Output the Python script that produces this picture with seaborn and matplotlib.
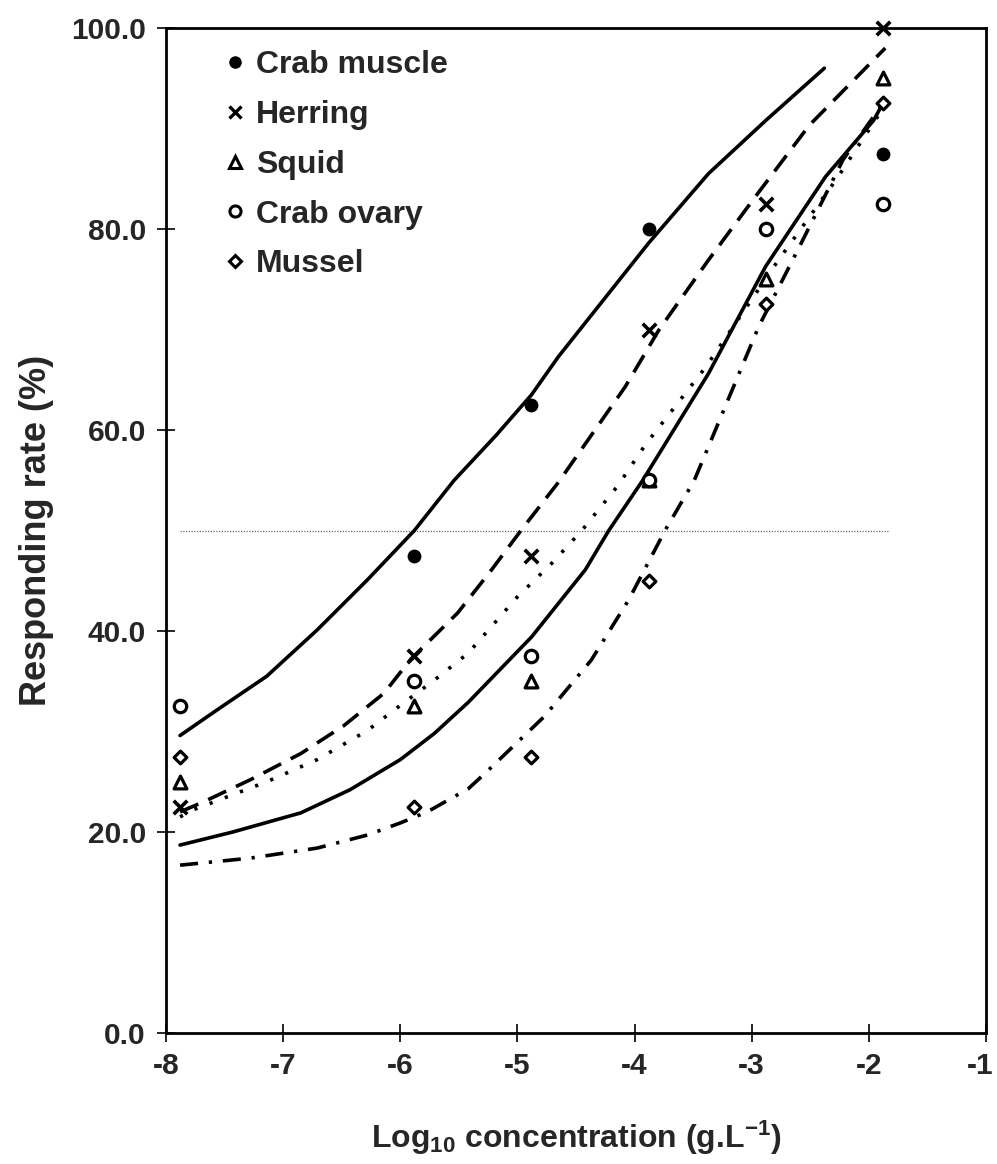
import numpy as np
import pandas as pd
import seaborn as sns
import matplotlib
matplotlib.use("Agg")
import matplotlib.pyplot as plt
import matplotlib.transforms as mtransforms
from matplotlib.lines import Line2D

# ---------------- data ----------------
conc = [-7.88, -5.88, -4.88, -3.88, -2.88, -1.88]
series_names = ["Crab muscle", "Herring", "Squid", "Crab ovary", "Mussel"]

crab_muscle = [np.nan, 47.5, 62.5, 80.0, np.nan, 87.5]
herring = [22.5, 37.5, 47.5, 70.0, 82.5, 100.0]
squid = [25.0, 32.5, 35.0, 55.0, 75.0, 95.0]
crab_ovary = [32.5, 35.0, 37.5, 55.0, 80.0, 82.5]
mussel = [27.5, 22.5, 27.5, 45.0, 72.5, 92.5]

# fitted response curves
fit_crab_muscle_x = [-7.88, -7.57, -7.14, -6.71, -6.28, -5.88, -5.54, -5.18, -4.88, -4.65, -3.88, -3.37, -2.88, -2.38]
fit_crab_muscle_y = [29.6, 32.1, 35.5, 40.1, 45.1, 50.0, 55.0, 59.5, 63.5, 67.3, 78.6, 85.5, 90.8, 96.0]

fit_herring_x = [-7.88, -7.68, -7.28, -6.85, -6.48, -6.14, -5.91, -5.51, -5.22, -4.97, -4.65, -4.08, -3.79, -3.37, -2.97, -2.51, -1.86]
fit_herring_y = [22.0, 23.0, 25.2, 27.8, 30.6, 33.8, 37.2, 41.8, 46.1, 50.0, 54.8, 64.3, 70.0, 76.9, 83.2, 90.3, 98.0]

fit_squid_x = [-7.88, -7.43, -6.85, -6.43, -6.00, -5.71, -5.42, -4.88, -4.42, -4.22, -3.93, -3.37, -2.88, -2.37, -1.96, -1.88]
fit_squid_y = [18.7, 20.0, 21.9, 24.2, 27.2, 29.8, 32.9, 39.4, 46.1, 50.0, 55.0, 65.6, 76.3, 85.2, 90.8, 92.5]

fit_crab_ovary_x = [-7.88, -7.77, -7.14, -6.71, -6.28, -6.00, -5.71, -5.42, -5.00, -4.71, -4.45, -4.14, -3.91, -3.39, -2.79, -2.28, -1.88]
fit_crab_ovary_y = [21.5, 22.2, 25.0, 27.2, 30.1, 32.6, 35.1, 37.8, 43.4, 46.7, 50.0, 54.5, 58.5, 66.3, 76.6, 84.9, 92.0]

fit_mussel_x = [-7.88, -7.28, -6.71, -6.28, -6.00, -5.77, -5.42, -5.28, -4.77, -4.37, -4.05, -3.74, -3.49, -3.31, -2.94, -2.59, -2.22, -1.88]
fit_mussel_y = [16.7, 17.4, 18.4, 19.7, 20.9, 22.0, 24.3, 25.8, 31.5, 37.1, 43.1, 50.0, 55.0, 60.0, 70.3, 78.3, 86.9, 92.5]

ref_x = [-7.88, -1.83]
ref_y = [50.0, 50.0]

x_ticks = [-8, -7, -6, -5, -4, -3, -2, -1]
y_ticks = [0, 20, 40, 60, 80, 100]

# ---------------- style ----------------
sns.set_style("ticks")
plt.rcParams["font.family"] = ["Liberation Sans", "DejaVu Sans"]
plt.rcParams["font.weight"] = "bold"
plt.rcParams["mathtext.default"] = "regular"

W, H = 997, 1164
fig = plt.figure(figsize=(W / 100, H / 100), dpi=100)
ax_left, ax_right, ax_top, ax_bottom = 166, 986, 28, 1033
ax = fig.add_axes([ax_left / W, 1 - ax_bottom / H, (ax_right - ax_left) / W, (ax_bottom - ax_top) / H])

points = pd.DataFrame({
    "x": conc * 5,
    "y": crab_muscle + herring + squid + crab_ovary + mussel,
    "series": sum([[n] * len(conc) for n in series_names], []),
}).dropna()

marker_style = {
    "Crab muscle": dict(marker="o", s=80, facecolor="black", edgecolor="black", linewidth=1.0),
    "Herring": dict(marker="x", s=95, color="black", linewidth=2.6),
    "Squid": dict(marker="^", s=85, facecolor="white", edgecolor="black", linewidth=2.3),
    "Crab ovary": dict(marker="o", s=80, facecolor="white", edgecolor="black", linewidth=2.3),
    "Mussel": dict(marker="D", s=42, facecolor="white", edgecolor="black", linewidth=2.3),
}

fits = {
    "Crab muscle": (fit_crab_muscle_x, fit_crab_muscle_y, (None, None)),
    "Herring": (fit_herring_x, fit_herring_y, (5.5, 3.0)),
    "Squid": (fit_squid_x, fit_squid_y, (None, None)),
    "Crab ovary": (fit_crab_ovary_x, fit_crab_ovary_y, (0.9, 3.6)),
    "Mussel": (fit_mussel_x, fit_mussel_y, (5.0, 3.0, 0.9, 3.0)),
}

# reference 50% line
sns.lineplot(x=ref_x, y=ref_y, ax=ax, color="#666666", linewidth=0.9,
             linestyle=(0, (1, 1.2)), estimator=None, sort=False)

for name, (fx, fy, dash) in fits.items():
    line_kw = dict(color="black", linewidth=2.6, estimator=None, sort=False)
    if dash[0] is None:
        line_kw["linestyle"] = "-"
    else:
        line_kw["linestyle"] = (0, dash)
    sns.lineplot(x=fx, y=fy, ax=ax, **line_kw)

for name in series_names:
    sub = points[points["series"] == name]
    sns.scatterplot(data=sub, x="x", y="y", ax=ax, zorder=5, clip_on=False, **marker_style[name])

ax.set_xlim(-8, -1)
ax.set_ylim(0, 100)
ax.set_xticks(x_ticks)
ax.set_yticks(y_ticks)
ax.set_xticklabels([str(t) for t in x_ticks])
ax.set_yticklabels([f"{t:.1f}" for t in y_ticks])
ax.tick_params(direction="inout", length=13, width=1.2, labelsize=21.5, color="black")
ax.tick_params(axis="y", pad=8)
ax.tick_params(axis="x", pad=7)
for lab in ax.get_xticklabels() + ax.get_yticklabels():
    lab.set_fontweight("bold")
# keep the last x tick label inside the canvas
last = ax.get_xticklabels()[-1]
last.set_transform(last.get_transform() + mtransforms.ScaledTranslation(-6 / 100, 0, fig.dpi_scale_trans))

for sp in ax.spines.values():
    sp.set_visible(True)
    sp.set_linewidth(2.0)
    sp.set_color("black")

ax.set_xlabel(r"Log$_{10}$ concentration (g.L$^{-1}$)", fontsize=23, fontweight="bold", labelpad=28)
ax.set_ylabel("Responding rate (%)", fontsize=26, fontweight="bold", labelpad=12)

handles = []
for name in series_names:
    st = marker_style[name]
    if name == "Herring":
        h = Line2D([], [], linestyle="none", marker="x", color="black", markersize=8, markeredgewidth=2.4)
    else:
        h = Line2D([], [], linestyle="none", marker=st["marker"],
                   markerfacecolor=st["facecolor"], markeredgecolor="black",
                   markersize=8 if st["marker"] != "D" else 6,
                   markeredgewidth=2.2 if name != "Crab muscle" else 1.0)
    handles.append(h)
leg = ax.legend(handles, series_names, loc="upper left", bbox_to_anchor=(0.073, 0.978),
                frameon=False, fontsize=23, handlelength=0.6, handletextpad=0.35,
                labelspacing=0.62, borderpad=0, borderaxespad=0)
for t in leg.get_texts():
    t.set_fontweight("bold")

fig.savefig("out.png", dpi=100)
